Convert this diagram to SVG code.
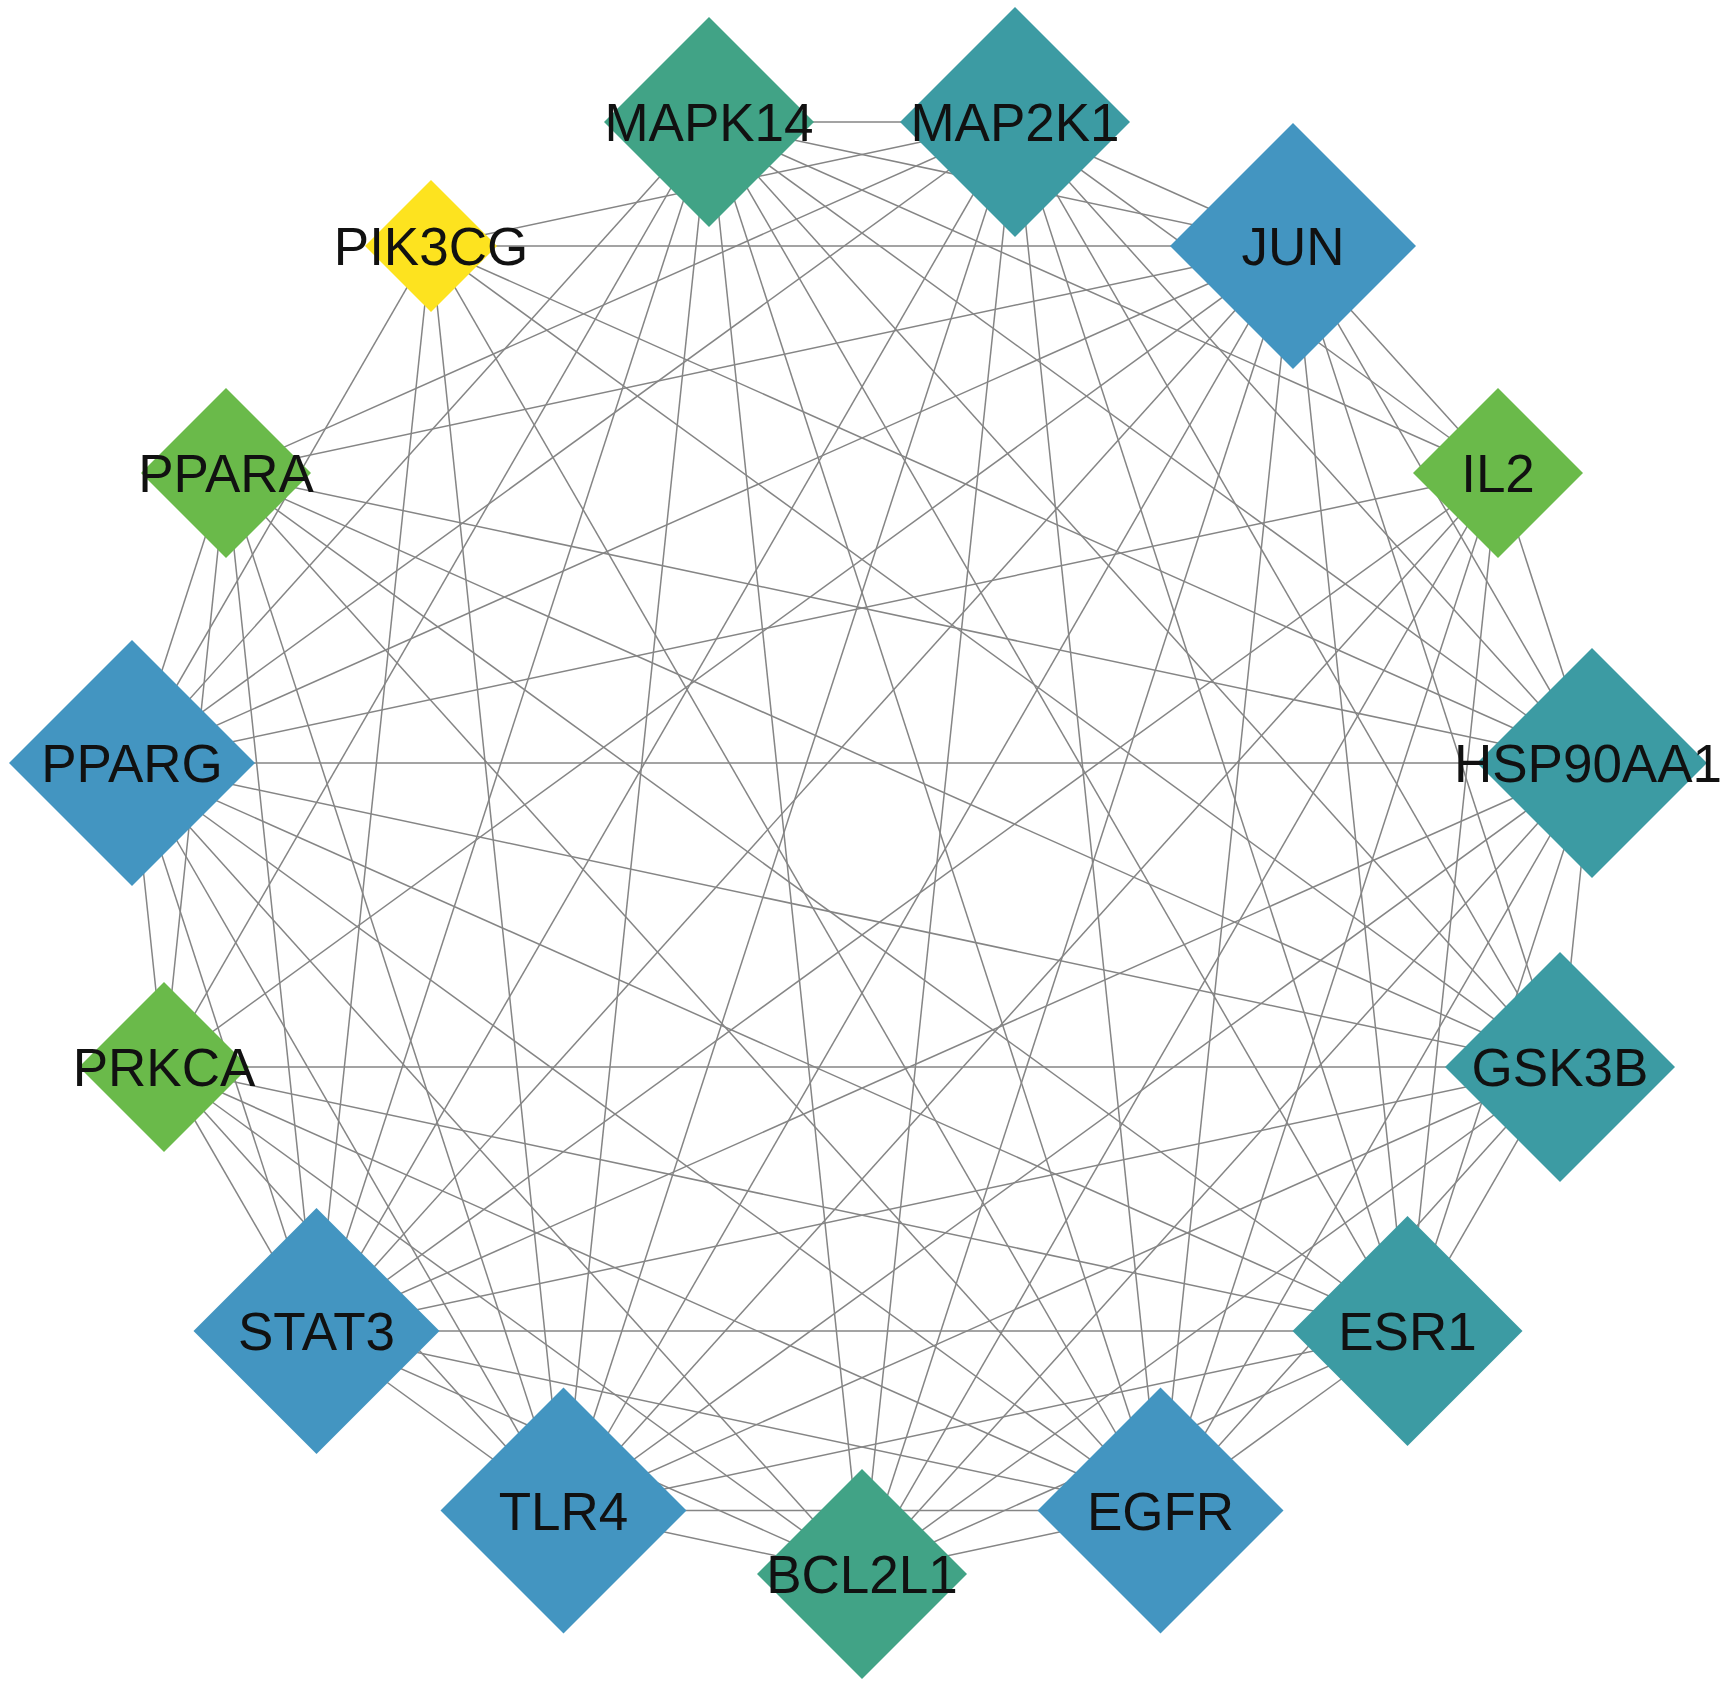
<svg xmlns="http://www.w3.org/2000/svg" width="1735" height="1687" viewBox="0 0 1735 1687">
<style>
.e{stroke:#858585;stroke-width:1.5;fill:none}
.blue{fill:#4395c1}
.teal{fill:#3c9ba3}
.gt{fill:#41a386}
.green{fill:#6aba4a}
.yellow{fill:#fde31f}
text{font-family:"Liberation Sans",Arial,sans-serif;font-size:53px;fill:#111;text-anchor:middle}
</style>
<rect width="1735" height="1687" fill="#ffffff"/>
<g id="edges">
<line class="e" x1="862" y1="1574" x2="563.5" y2="1510.5"/>
<line class="e" x1="862" y1="1574" x2="316.5" y2="1331"/>
<line class="e" x1="862" y1="1574" x2="164" y2="1067"/>
<line class="e" x1="862" y1="1574" x2="132" y2="763"/>
<line class="e" x1="862" y1="1574" x2="709" y2="122"/>
<line class="e" x1="862" y1="1574" x2="1015" y2="122"/>
<line class="e" x1="862" y1="1574" x2="1293" y2="246"/>
<line class="e" x1="862" y1="1574" x2="1498" y2="473"/>
<line class="e" x1="862" y1="1574" x2="1592" y2="763"/>
<line class="e" x1="862" y1="1574" x2="1560" y2="1067"/>
<line class="e" x1="862" y1="1574" x2="1407.5" y2="1331"/>
<line class="e" x1="862" y1="1574" x2="1160.5" y2="1510.5"/>
<line class="e" x1="563.5" y1="1510.5" x2="316.5" y2="1331"/>
<line class="e" x1="563.5" y1="1510.5" x2="164" y2="1067"/>
<line class="e" x1="563.5" y1="1510.5" x2="132" y2="763"/>
<line class="e" x1="563.5" y1="1510.5" x2="226" y2="473"/>
<line class="e" x1="563.5" y1="1510.5" x2="431" y2="246"/>
<line class="e" x1="563.5" y1="1510.5" x2="709" y2="122"/>
<line class="e" x1="563.5" y1="1510.5" x2="1015" y2="122"/>
<line class="e" x1="563.5" y1="1510.5" x2="1293" y2="246"/>
<line class="e" x1="563.5" y1="1510.5" x2="1498" y2="473"/>
<line class="e" x1="563.5" y1="1510.5" x2="1592" y2="763"/>
<line class="e" x1="563.5" y1="1510.5" x2="1560" y2="1067"/>
<line class="e" x1="563.5" y1="1510.5" x2="1407.5" y2="1331"/>
<line class="e" x1="563.5" y1="1510.5" x2="1160.5" y2="1510.5"/>
<line class="e" x1="316.5" y1="1331" x2="164" y2="1067"/>
<line class="e" x1="316.5" y1="1331" x2="132" y2="763"/>
<line class="e" x1="316.5" y1="1331" x2="226" y2="473"/>
<line class="e" x1="316.5" y1="1331" x2="431" y2="246"/>
<line class="e" x1="316.5" y1="1331" x2="709" y2="122"/>
<line class="e" x1="316.5" y1="1331" x2="1015" y2="122"/>
<line class="e" x1="316.5" y1="1331" x2="1293" y2="246"/>
<line class="e" x1="316.5" y1="1331" x2="1498" y2="473"/>
<line class="e" x1="316.5" y1="1331" x2="1592" y2="763"/>
<line class="e" x1="316.5" y1="1331" x2="1560" y2="1067"/>
<line class="e" x1="316.5" y1="1331" x2="1407.5" y2="1331"/>
<line class="e" x1="316.5" y1="1331" x2="1160.5" y2="1510.5"/>
<line class="e" x1="164" y1="1067" x2="132" y2="763"/>
<line class="e" x1="164" y1="1067" x2="226" y2="473"/>
<line class="e" x1="164" y1="1067" x2="709" y2="122"/>
<line class="e" x1="164" y1="1067" x2="1293" y2="246"/>
<line class="e" x1="164" y1="1067" x2="1560" y2="1067"/>
<line class="e" x1="164" y1="1067" x2="1407.5" y2="1331"/>
<line class="e" x1="164" y1="1067" x2="1160.5" y2="1510.5"/>
<line class="e" x1="132" y1="763" x2="226" y2="473"/>
<line class="e" x1="132" y1="763" x2="431" y2="246"/>
<line class="e" x1="132" y1="763" x2="709" y2="122"/>
<line class="e" x1="132" y1="763" x2="1015" y2="122"/>
<line class="e" x1="132" y1="763" x2="1293" y2="246"/>
<line class="e" x1="132" y1="763" x2="1498" y2="473"/>
<line class="e" x1="132" y1="763" x2="1592" y2="763"/>
<line class="e" x1="132" y1="763" x2="1560" y2="1067"/>
<line class="e" x1="132" y1="763" x2="1407.5" y2="1331"/>
<line class="e" x1="132" y1="763" x2="1160.5" y2="1510.5"/>
<line class="e" x1="226" y1="473" x2="1015" y2="122"/>
<line class="e" x1="226" y1="473" x2="1293" y2="246"/>
<line class="e" x1="226" y1="473" x2="1592" y2="763"/>
<line class="e" x1="226" y1="473" x2="1560" y2="1067"/>
<line class="e" x1="226" y1="473" x2="1407.5" y2="1331"/>
<line class="e" x1="226" y1="473" x2="1160.5" y2="1510.5"/>
<line class="e" x1="431" y1="246" x2="1015" y2="122"/>
<line class="e" x1="431" y1="246" x2="1293" y2="246"/>
<line class="e" x1="431" y1="246" x2="1592" y2="763"/>
<line class="e" x1="431" y1="246" x2="1560" y2="1067"/>
<line class="e" x1="431" y1="246" x2="1160.5" y2="1510.5"/>
<line class="e" x1="709" y1="122" x2="1015" y2="122"/>
<line class="e" x1="709" y1="122" x2="1293" y2="246"/>
<line class="e" x1="709" y1="122" x2="1498" y2="473"/>
<line class="e" x1="709" y1="122" x2="1592" y2="763"/>
<line class="e" x1="709" y1="122" x2="1560" y2="1067"/>
<line class="e" x1="709" y1="122" x2="1407.5" y2="1331"/>
<line class="e" x1="709" y1="122" x2="1160.5" y2="1510.5"/>
<line class="e" x1="1015" y1="122" x2="1293" y2="246"/>
<line class="e" x1="1015" y1="122" x2="1498" y2="473"/>
<line class="e" x1="1015" y1="122" x2="1592" y2="763"/>
<line class="e" x1="1015" y1="122" x2="1560" y2="1067"/>
<line class="e" x1="1015" y1="122" x2="1407.5" y2="1331"/>
<line class="e" x1="1015" y1="122" x2="1160.5" y2="1510.5"/>
<line class="e" x1="1293" y1="246" x2="1498" y2="473"/>
<line class="e" x1="1293" y1="246" x2="1592" y2="763"/>
<line class="e" x1="1293" y1="246" x2="1560" y2="1067"/>
<line class="e" x1="1293" y1="246" x2="1407.5" y2="1331"/>
<line class="e" x1="1293" y1="246" x2="1160.5" y2="1510.5"/>
<line class="e" x1="1498" y1="473" x2="1592" y2="763"/>
<line class="e" x1="1498" y1="473" x2="1407.5" y2="1331"/>
<line class="e" x1="1498" y1="473" x2="1160.5" y2="1510.5"/>
<line class="e" x1="1592" y1="763" x2="1560" y2="1067"/>
<line class="e" x1="1592" y1="763" x2="1407.5" y2="1331"/>
<line class="e" x1="1592" y1="763" x2="1160.5" y2="1510.5"/>
<line class="e" x1="1560" y1="1067" x2="1407.5" y2="1331"/>
<line class="e" x1="1560" y1="1067" x2="1160.5" y2="1510.5"/>
<line class="e" x1="1407.5" y1="1331" x2="1160.5" y2="1510.5"/>
</g>
<g id="node-MAPK14"><polygon class="gt" points="709,17 814,122 709,227 604,122"/><text x="709" y="141">MAPK14</text></g>
<g id="node-MAP2K1"><polygon class="teal" points="1015,7 1130,122 1015,237 900,122"/><text x="1015" y="141">MAP2K1</text></g>
<g id="node-JUN"><polygon class="blue" points="1293,123 1416,246 1293,369 1170,246"/><text x="1293" y="265">JUN</text></g>
<g id="node-IL2"><polygon class="green" points="1498,388 1583,473 1498,558 1413,473"/><text x="1498" y="492">IL2</text></g>
<g id="node-HSP90AA1"><polygon class="teal" points="1592,648 1707,763 1592,878 1477,763"/><text x="1588" y="782">HSP90AA1</text></g>
<g id="node-GSK3B"><polygon class="teal" points="1560,952 1675,1067 1560,1182 1445,1067"/><text x="1560" y="1086">GSK3B</text></g>
<g id="node-ESR1"><polygon class="teal" points="1407.5,1216 1522.5,1331 1407.5,1446 1292.5,1331"/><text x="1407.5" y="1350">ESR1</text></g>
<g id="node-EGFR"><polygon class="blue" points="1160.5,1387.5 1283.5,1510.5 1160.5,1633.5 1037.5,1510.5"/><text x="1160.5" y="1529.5">EGFR</text></g>
<g id="node-BCL2L1"><polygon class="gt" points="862,1469 967,1574 862,1679 757,1574"/><text x="862" y="1593">BCL2L1</text></g>
<g id="node-TLR4"><polygon class="blue" points="563.5,1387.5 686.5,1510.5 563.5,1633.5 440.5,1510.5"/><text x="563.5" y="1529.5">TLR4</text></g>
<g id="node-STAT3"><polygon class="blue" points="316.5,1208 439.5,1331 316.5,1454 193.5,1331"/><text x="316.5" y="1350">STAT3</text></g>
<g id="node-PRKCA"><polygon class="green" points="164,982 249,1067 164,1152 79,1067"/><text x="164" y="1086">PRKCA</text></g>
<g id="node-PPARG"><polygon class="blue" points="132,640 255,763 132,886 9,763"/><text x="132" y="782">PPARG</text></g>
<g id="node-PPARA"><polygon class="green" points="226,388 311,473 226,558 141,473"/><text x="226" y="492">PPARA</text></g>
<g id="node-PIK3CG"><polygon class="yellow" points="431,180 497,246 431,312 365,246"/><text x="431" y="265">PIK3CG</text></g>
</svg>
